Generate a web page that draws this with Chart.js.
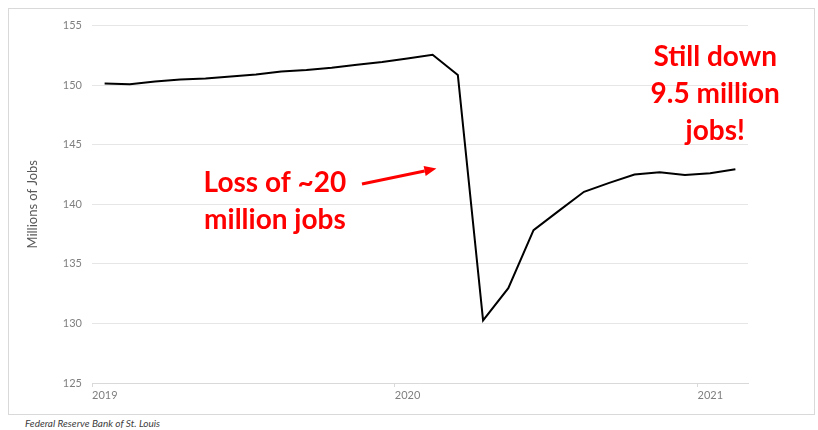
<!DOCTYPE html>
<html>
<head>
<meta charset="utf-8">
<script src="https://cdn.jsdelivr.net/npm/chart.js@4"></script>
<style>
  html, body { margin: 0; padding: 0; background: #fff; }
  #frame {
    position: absolute; left: 8px; top: 8px;
    width: 805px; height: 405px;
    border: 1px solid #d9d9d9;
  }
  #source {
    position: absolute; left: 25px; top: 417px;
    font: italic 10px Lato, sans-serif; color: #404040;
  }
</style>
</head>
<body>
<div id="frame"><canvas id="jobsChart" width="805" height="405"></canvas></div>
<div id="source">Federal Reserve Bank of St. Louis</div>
<script>
// Monthly nonfarm payrolls, millions
const months = [
  'Jan 2019', 'Feb 2019', 'Mar 2019', 'Apr 2019', 'May 2019', 'Jun 2019',
  'Jul 2019', 'Aug 2019', 'Sep 2019', 'Oct 2019', 'Nov 2019', 'Dec 2019',
  'Jan 2020', 'Feb 2020', 'Mar 2020', 'Apr 2020', 'May 2020', 'Jun 2020',
  'Jul 2020', 'Aug 2020', 'Sep 2020', 'Oct 2020', 'Nov 2020', 'Dec 2020',
  'Jan 2021', 'Feb 2021'
];
const jobs = [
  150.13, 150.08, 150.30, 150.47, 150.55, 150.72,
  150.89, 151.14, 151.28, 151.47, 151.72, 151.95,
  152.24, 152.55, 150.85, 130.25, 132.96, 137.83,
  139.45, 141.05, 141.80, 142.50, 142.70, 142.45,
  142.60, 142.95
];
const yearTicks = ['2019', '2020', '2021'];
const yTicks = [125, 130, 135, 140, 145, 150, 155];

// Callout text, placed in data units
const callouts = [
  { lines: ['Loss of ~20', 'million jobs'], x: 7.25, y: 141.0 },
  { lines: ['Still down', '9.5 million', 'jobs!'], x: 24.7, y: 151.6 }
];

const calloutPlugin = {
  id: 'callouts',
  afterDatasetsDraw(chart) {
    const ctx = chart.ctx;
    const xs = chart.scales.x, ys = chart.scales.y;
    ctx.save();
    ctx.fillStyle = '#ff0000';
    ctx.strokeStyle = '#ff0000';
    ctx.font = 'bold 28px Lato, sans-serif';
    ctx.textAlign = 'center';
    ctx.textBaseline = 'alphabetic';
    callouts.forEach(c => {
      const cx = xs.getPixelForValue(c.x);
      const cy = ys.getPixelForValue(c.y);
      c.lines.forEach((t, i) => ctx.fillText(t, cx, cy + i * 37));
    });

    // arrow pointing at the drop
    const x0 = xs.getPixelForValue(10.7), y0 = ys.getPixelForValue(141.7);
    const x1 = xs.getPixelForValue(13.65), y1 = ys.getPixelForValue(143.0);
    const ang = Math.atan2(y1 - y0, x1 - x0);
    const hl = 12, hw = 5;
    const bx = x1 - hl * Math.cos(ang), by = y1 - hl * Math.sin(ang);
    ctx.lineWidth = 3;
    ctx.beginPath();
    ctx.moveTo(x0, y0);
    ctx.lineTo(bx, by);
    ctx.stroke();
    ctx.beginPath();
    ctx.moveTo(x1, y1);
    ctx.lineTo(bx + hw * Math.sin(ang), by - hw * Math.cos(ang));
    ctx.lineTo(bx - hw * Math.sin(ang), by + hw * Math.cos(ang));
    ctx.closePath();
    ctx.fill();
    ctx.restore();
  }
};

const ctx = document.getElementById('jobsChart').getContext('2d');
new Chart(ctx, {
  type: 'line',
  data: {
    datasets: [{
      label: 'Payrolls',
      data: jobs.map((v, i) => ({ x: i + 0.5, y: v })),
      borderColor: '#000',
      borderWidth: 2,
      pointRadius: 0,
      tension: 0,
      fill: false
    }]
  },
  options: {
    responsive: false,
    animation: false,
    layout: { padding: { left: 0, right: 66, top: 16, bottom: 0 } },
    plugins: {
      legend: { display: false },
      tooltip: { enabled: false }
    },
    scales: {
      x: {
        type: 'linear',
        min: 0,
        max: 26,
        afterBuildTicks: s => { s.ticks = [{ value: 0 }, { value: 12 }, { value: 24 }]; },
        afterFit: s => { s.height = 31; },
        grid: { drawOnChartArea: false, drawTicks: true, tickLength: 4, color: '#d9d9d9' },
        border: { display: true, color: '#d9d9d9' },
        ticks: {
          align: 'start',
          padding: 2,
          maxRotation: 0,
          color: '#7f7f7f',
          font: { family: 'Lato', size: 11 },
          callback: v => yearTicks[v / 12]
        }
      },
      y: {
        min: 125,
        max: 155,
        afterBuildTicks: s => { s.ticks = yTicks.map(v => ({ value: v })); },
        afterFit: s => { s.width = 83; },
        grid: { color: '#e6e6e6', drawTicks: false },
        border: { display: false },
        ticks: {
          padding: 10,
          color: '#7f7f7f',
          font: { family: 'Lato', size: 11 }
        },
        title: {
          display: true,
          text: 'Millions of Jobs',
          color: '#595959',
          font: { family: 'Lato', size: 13 },
          padding: { top: 16, bottom: 0 }
        }
      }
    }
  },
  plugins: [calloutPlugin]
});
</script>
</body>
</html>
